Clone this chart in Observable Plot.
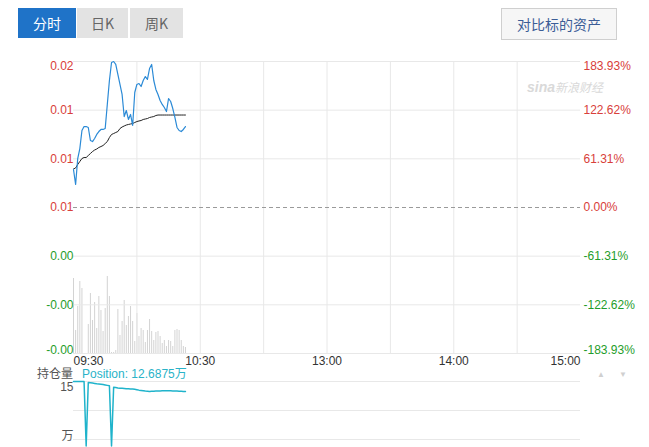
<!DOCTYPE html>
<html><head><meta charset="utf-8">
<script src="https://cdn.jsdelivr.net/npm/d3@7"></script>
<script src="https://cdn.jsdelivr.net/npm/@observablehq/plot@0.6"></script>
<style>
body{margin:0;background:#fff;font-family:"Liberation Sans",Arial,"Noto Sans CJK SC",sans-serif;}
#wrap{position:relative;width:649px;height:447px;overflow:hidden;background:#fff;}
#wrap svg{position:absolute;left:0;top:0;}
.btn{position:absolute;top:8px;height:30px;line-height:30px;text-align:center;font-size:14px;font-family:"Noto Sans CJK SC","Liberation Sans",sans-serif;}
.tab{background:#e3e3e3;color:#666;}
.tab.on{background:#1f73c8;color:#fff;}
.cmp{left:501px;width:114px;top:8px;height:30px;border:1px solid #cfcfcf;background:#f6f6f6;color:#3b5d96;}
.lbl{position:absolute;font-size:12px;line-height:14px;white-space:nowrap;}
.wm{position:absolute;left:527px;top:78px;color:#d9d9d9;font-style:italic;white-space:nowrap;}
</style></head>
<body><div id="wrap">
<div class="btn tab on" style="left:18px;width:58px">分时</div>
<div class="btn tab" style="left:77px;width:51px">日K</div>
<div class="btn tab" style="left:130px;width:53px">周K</div>
<div class="btn cmp">对比标的资产</div>
<div class="wm"><span style="font-weight:bold;font-size:14px">sina</span><span style="font-size:12px;font-family:'Noto Sans CJK SC'">新浪财经</span></div>
<div class="lbl" style="left:37px;top:366px;color:#555;font-family:'Noto Sans CJK SC'">持仓量</div>
<div class="lbl" style="left:82px;top:366px;color:#2ab3c8">Position: 12.6875<span style="font-family:'Noto Sans CJK SC'">万</span></div>
<div class="lbl" style="left:597px;top:368px;color:#d0d0d0;font-size:8px">▲</div>
<div class="lbl" style="left:619px;top:368px;color:#d0d0d0;font-size:8px">▼</div>
</div>
<script>
// ---- data ----
const pctTicks = [183.93, 122.62, 61.31, 0, -61.31, -122.62, -183.93];
const leftLabels = ["0.02", "0.01", "0.01", "0.01", "0.00", "-0.00", "-0.00"];
const rightLabels = ["183.93%", "122.62%", "61.31%", "0.00%", "-61.31%", "-122.62%", "-183.93%"];
const timeTicks = [0, 60, 120, 180, 240];
const timeLabels = ["09:30", "10:30", "13:00", "14:00", "15:00"];
const gridMinutes = [30, 60, 90, 120, 150, 180, 210];
// percent change vs previous close, one per minute from 09:30
const pricePct = [47.9,29.0,61.7,74.3,97.0,102.0,102.0,100.8,84.4,83.1,86.9,92.0,95.7,98.3,98.3,99.5,129.8,160.0,182.7,183.9,180.2,167.6,155.0,142.4,114.6,122.2,110.9,117.2,103.3,144.9,155.0,156.2,152.4,160.0,165.0,161.3,175.1,180.2,160.0,148.7,142.4,134.8,129.8,126.0,120.9,137.3,133.5,124.7,113.4,100.8,97.0,95.7,98.3,102.0];
const avgPct = [48.5,49.8,54.2,58.0,61.7,63.0,63.0,65.5,68.0,70.5,72.4,73.7,75.6,76.8,78.1,80.6,83.1,88.2,92.0,93.2,94.5,95.7,99.5,101.4,102.7,103.9,104.6,105.2,105.8,107.1,108.3,109.0,109.6,110.9,111.5,112.1,113.4,114.0,114.6,115.9,116.5,116.5,116.5,116.5,116.5,116.5,116.5,116.5,116.5,116.5,116.5,116.5,116.5,116.5];
const volume = [75,23,47,72,65,0,0,29,60,33,51,25,57,43,22,45,77,57,1,1,3,44,18,32,53,28,37,47,32,12,40,17,25,23,11,23,34,22,13,21,22,17,10,13,7,13,12,7,23,24,23,13,7,6];
const position = [15,15,15,15,15,15,0,14.77,14.7,14.63,14.56,14.47,14.42,14.38,14.28,14.19,14.1,14.0,0,13.64,13.59,13.5,13.45,13.41,13.36,13.31,13.29,13.27,13.24,13.17,13.08,12.99,12.92,12.85,12.78,12.74,12.69,12.71,12.74,12.76,12.78,12.81,12.83,12.83,12.85,12.85,12.83,12.81,12.78,12.76,12.74,12.71,12.69,12.6875];
const posTicks = [15, 8.25, 1.5];
const posLabels = ["15", "", "万"];

// ---- build ----
const RED = "#d8403a", GREEN = "#1f9d2b";
const ticks = pctTicks.map((v, k) => ({v, left: leftLabels[k], right: rightLabels[k], color: v >= 0 ? RED : GREEN, k}));
const series = pricePct.map((p, i) => ({i, p, a: avgPct[i], vol: volume[i], pos: position[i]}));
const tt = timeTicks.map((m, k) => ({m, label: timeLabels[k], k}));
const font = {fontSize: "12px", fontFamily: "'Liberation Sans', Arial, 'Noto Sans CJK SC', sans-serif", background: "transparent", overflow: "visible"};
const W = 649, H = 447;
const common = {width: W, height: H, marginLeft: 73, marginRight: 69, style: font, x: {domain: [0, 240], axis: null}, color: {type: "identity"}};

function yLabels(side) {
  const key = side === "left" ? "left" : "right";
  const opts = side === "left" ? {frameAnchor: "left", textAnchor: "end", dx: 0} : {frameAnchor: "right", textAnchor: "start", dx: 3};
  return [
    Plot.text(ticks.filter(d => d.k === 0), {y: "v", text: key, fill: "color", lineAnchor: "top", ...opts}),
    Plot.text(ticks.filter(d => d.k > 0 && d.k < 6), {y: "v", text: key, fill: "color", lineAnchor: "middle", ...opts}),
    Plot.text(ticks.filter(d => d.k === 6), {y: "v", text: key, fill: "color", lineAnchor: "bottom", ...opts})
  ];
}

const main = Plot.plot({
  ...common,
  marginTop: 61, marginBottom: H - 353,
  y: {domain: [-183.93, 183.93], axis: null},
  marks: [
    Plot.ruleX(gridMinutes, {stroke: "#e8e8e8"}),
    Plot.ruleY(pctTicks.filter(v => v !== 0), {stroke: "#e8e8e8"}),
    Plot.ruleY([0], {stroke: "#9a9a9a", strokeDasharray: "4,3"}),
    Plot.line(series, {x: "i", y: "a", stroke: "#222", strokeWidth: 1}),
    Plot.line(series, {x: "i", y: "p", stroke: "#2b8ad6", strokeWidth: 1.2}),
    ...yLabels("left"),
    ...yLabels("right"),
    Plot.text(tt.filter(d => d.k === 0), {x: "m", text: "label", frameAnchor: "bottom", lineAnchor: "top", textAnchor: "start", dy: 3, fill: "#333"}),
    Plot.text(tt.filter(d => d.k > 0 && d.k < 4), {x: "m", text: "label", frameAnchor: "bottom", lineAnchor: "top", textAnchor: "middle", dy: 3, fill: "#333"}),
    Plot.text(tt.filter(d => d.k === 4), {x: "m", text: "label", frameAnchor: "bottom", lineAnchor: "top", textAnchor: "end", dy: 3, fill: "#333"})
  ]
});

const vol = Plot.plot({
  ...common,
  marginTop: 253, marginBottom: H - 353,
  y: {domain: [0, 100], axis: null},
  marks: [
    Plot.ruleX(series, {x: "i", y1: 0, y2: "vol", stroke: "#d3d3d3", strokeWidth: 1})
  ]
});

const posRows = posTicks.map((v, k) => ({v, t: posLabels[k], k}));
const pos = Plot.plot({
  ...common,
  marginTop: 381, marginBottom: H - 439,
  y: {domain: [1.5, 15], axis: null},
  marks: [
    Plot.ruleY(posTicks, {stroke: "#e8e8e8"}),
    Plot.line(series, {x: "i", y: "pos", stroke: "#1fb3cb", strokeWidth: 1.5}),
    Plot.text(posRows.filter(d => d.k === 0), {y: "v", text: "t", frameAnchor: "left", textAnchor: "end", lineAnchor: "top", dy: 1, fill: "#555"}),
    Plot.text(posRows.filter(d => d.k === 2), {y: "v", text: "t", frameAnchor: "left", textAnchor: "end", lineAnchor: "bottom", fill: "#555", fontFamily: "'Noto Sans CJK SC', sans-serif"})
  ]
});

const wrap = document.getElementById("wrap");
const first = wrap.firstChild;
wrap.insertBefore(pos, first);
wrap.insertBefore(vol, first);
wrap.insertBefore(main, first);
</script>
</body></html>
